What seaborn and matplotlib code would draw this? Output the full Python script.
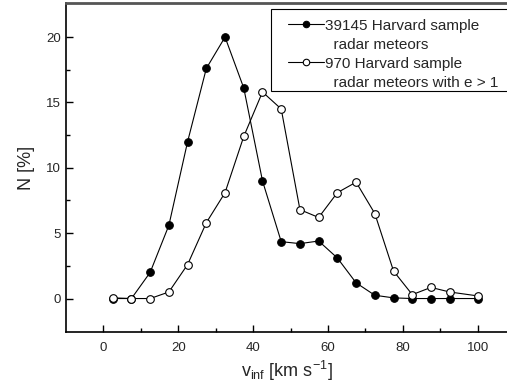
import pandas as pd
import matplotlib.pyplot as plt
import seaborn as sns
from matplotlib.lines import Line2D
from matplotlib.patches import Rectangle

# velocity bins (km/s) and percentages
v_inf = [2.5, 7.5, 12.5, 17.5, 22.5, 27.5, 32.5, 37.5, 42.5, 47.5,
         52.5, 57.5, 62.5, 67.5, 72.5, 77.5, 82.5, 87.5, 92.5, 100]
all_meteors = [0.0, 0.0, 2.0, 5.6, 12.0, 17.6, 20.0, 16.1, 9.0, 4.35,
               4.2, 4.4, 3.1, 1.2, 0.25, 0.05, 0.0, 0.0, 0.0, 0.0]
hyperbolic = [0.05, 0.0, 0.0, 0.5, 2.6, 5.8, 8.1, 12.4, 15.8, 14.5,
              6.8, 6.2, 8.1, 8.9, 6.5, 2.1, 0.3, 0.85, 0.5, 0.2]

legend_rows = ['39145 Harvard sample', '  radar meteors',
               '970 Harvard sample', '  radar meteors with e > 1']

df = pd.DataFrame({'v': v_inf, 'all': all_meteors, 'hyp': hyperbolic})

sns.set_style('ticks')
plt.rcParams['font.family'] = ['Liberation Sans', 'DejaVu Sans']

fig = plt.figure(figsize=(5.07, 3.85), dpi=100)
ax = fig.add_axes([0.130, 0.138, 0.870, 0.854])

sns.lineplot(x='v', y='all', data=df, ax=ax, color='black', lw=0.8,
             marker='o', markersize=5.5, markerfacecolor='black',
             markeredgecolor='black', label=legend_rows[0])
sns.lineplot(x='v', y='hyp', data=df, ax=ax, color='black', lw=0.8,
             marker='o', markersize=5.5, markerfacecolor='white',
             markeredgecolor='black', markeredgewidth=0.8, label=legend_rows[2])

ax.set_xlim(-10, 107.8)
ax.set_ylim(-2.55, 22.6)
ax.set_xticks([0, 20, 40, 60, 80, 100])
ax.set_xticks([10, 30, 50, 70, 90], minor=True)
ax.set_yticks([0, 5, 10, 15, 20])
ax.set_yticks([2.5, 7.5, 12.5, 17.5], minor=True)
ax.tick_params(which='both', direction='in', labelsize=9.5, width=1, color='black')
ax.tick_params(which='major', length=5)
ax.tick_params(which='minor', length=3)
ax.tick_params(axis='x', pad=7)
ax.spines['right'].set_visible(False)
for s in ['left', 'bottom']:
    ax.spines[s].set_linewidth(1.2)
    ax.spines[s].set_color('black')
ax.spines['top'].set_linewidth(2)
ax.spines['top'].set_color('#555555')

ax.set_xlabel(r'v$_{\mathregular{inf}}$ [km s$^{\mathregular{-1}}$]', fontsize=13, labelpad=4)
ax.set_ylabel('N [%]', fontsize=13, labelpad=8)

# legend box drawn separately, wide padding like the original
ax.add_patch(Rectangle((0.465, 0.7325), 0.56, 0.2495, transform=ax.transAxes,
                       facecolor='white', edgecolor='black', lw=0.8,
                       clip_on=False, zorder=4))

# each entry spread over two text rows, marker on the first row
handles, _ = ax.get_legend_handles_labels()
blank = Line2D([], [], linestyle='none', marker=None)
leg = ax.legend([handles[0], blank, handles[1], blank], legend_rows,
                loc='upper left', bbox_to_anchor=(0.503, 0.953), fontsize=11,
                frameon=False, handlelength=2.35, handletextpad=0.1,
                borderpad=0, labelspacing=0.33, borderaxespad=0,
                markerscale=0.85)
leg.set_zorder(5)

fig.savefig('out.png', dpi=100)
